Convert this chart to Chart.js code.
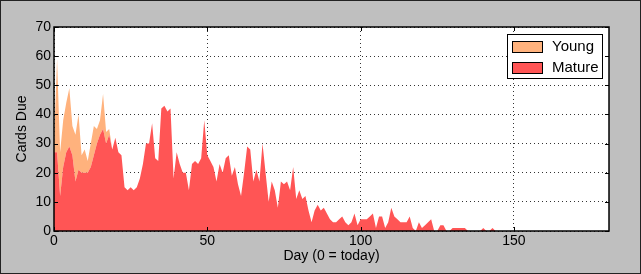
<!DOCTYPE html>
<html>
<head>
<meta charset="utf-8">
<script src="https://cdn.jsdelivr.net/npm/chart.js@4/dist/chart.umd.min.js"></script>
<style>
  html, body { margin: 0; padding: 0; background: #bfbfbf; }
  #wrap { width: 641px; height: 274px; position: relative; }
</style>
</head>
<body>
<div id="wrap"><canvas id="dueChart" width="641" height="274"></canvas></div>
<script>
// Cards due per day (index = day, 0 = today)
const mature = [
  27, 27, 12, 22, 27, 29, 26, 17, 21, 20,
  20, 20, 22, 26, 30, 33, 35, 30, 33, 28,
  32, 27, 26, 15, 14, 15, 14, 15, 18, 23,
  30, 30, 37, 25, 24, 42, 43, 41, 42, 18,
  27, 23, 20, 20, 14, 23, 24, 23, 25, 38,
  26, 24, 22, 17, 23, 20, 25, 26, 19, 22,
  16, 12, 20, 29, 28, 17, 21, 17, 30, 20,
  10, 17, 14, 8, 17, 16, 17, 14, 22, 11,
  14, 11, 12, 7, 3, 7, 9, 7, 8, 6,
  4, 3, 3, 4, 5, 3, 2, 3, 6, 2,
  4, 4, 4, 5, 6, 1, 5, 5, 1, 3,
  8, 5, 4, 3, 3, 3, 5, 1, 0, 3,
  1, 2, 3, 4, 0, 0, 2, 2, 0, 0,
  1, 1, 1, 1, 1, 0, 0, 0, 0, 0,
  1, 0, 0, 1, 0
];
const young = [
  3, 32, 15, 16, 17, 20, 10, 16, 19, 6,
  8, 4, 8, 10, 5, 5, 12, 4, 2, 0
];
const seriesNames = ['Young', 'Mature'];
const seriesColors = ['#ffb27d', '#ff5555'];
const xTicks = [0, 50, 100, 150];
const yTicks = [0, 10, 20, 30, 40, 50, 60, 70];

const FONT = "'Liberation Sans', Arial, sans-serif";

// background, outer frame, plot frame and the boxed legend
const frame = {
  id: 'frame',
  beforeDraw(chart) {
    const c = chart.ctx;
    c.save();
    c.fillStyle = '#bfbfbf';
    c.fillRect(0, 0, chart.width, chart.height);
    c.strokeStyle = '#222';
    c.lineWidth = 1;
    c.strokeRect(0.5, 0.5, chart.width - 1, chart.height - 1);
    const a = chart.chartArea;
    c.fillStyle = '#ffffff';
    c.fillRect(a.left, a.top, a.right - a.left, a.bottom - a.top);
    c.restore();
  },
  afterDraw(chart) {
    const c = chart.ctx;
    const a = chart.chartArea;
    c.save();
    c.strokeStyle = '#000';
    c.lineWidth = 1.5;
    c.strokeRect(a.left, a.top, a.right - a.left, a.bottom - a.top);

    // little inward ticks like the original
    c.lineWidth = 1;
    const xs = chart.scales.x, ys = chart.scales.y;
    xTicks.forEach(t => {
      const px = Math.round(xs.getPixelForValue(t)) + 0.5;
      c.beginPath();
      c.moveTo(px, a.bottom); c.lineTo(px, a.bottom - 4);
      c.moveTo(px, a.top); c.lineTo(px, a.top + 4);
      c.stroke();
    });
    yTicks.forEach(t => {
      const py = Math.round(ys.getPixelForValue(t)) + 0.5;
      c.beginPath();
      c.moveTo(a.left, py); c.lineTo(a.left + 4, py);
      c.moveTo(a.right, py); c.lineTo(a.right - 4, py);
      c.stroke();
    });

    // legend
    const lx = 507, ly = 34, lw = 95, lh = 44;
    c.fillStyle = '#fff';
    c.fillRect(lx, ly, lw, lh);
    c.strokeStyle = '#000';
    c.strokeRect(lx + 0.5, ly + 0.5, lw, lh);
    c.font = '15px ' + FONT;
    c.textBaseline = 'middle';
    seriesNames.forEach((name, i) => {
      const ry = ly + 7 + i * 21;
      c.fillStyle = seriesColors[i];
      c.fillRect(lx + 5, ry, 30, 11);
      c.strokeStyle = '#000';
      c.strokeRect(lx + 5.5, ry + 0.5, 30, 11);
      c.fillStyle = '#000';
      c.fillText(name, lx + 45, ry + 6);
    });
    c.restore();
  }
};

new Chart(document.getElementById('dueChart'), {
  type: 'line',
  data: {
    datasets: [
      {
        label: seriesNames[1],
        data: mature.map((v, i) => ({ x: i, y: v })),
        backgroundColor: seriesColors[1],
        borderWidth: 0,
        pointRadius: 0,
        fill: 'origin',
        order: 1
      },
      {
        label: seriesNames[0],
        data: young.map((v, i) => ({ x: i, y: v })),
        backgroundColor: seriesColors[0],
        borderWidth: 0,
        pointRadius: 0,
        fill: '-1',
        order: 2
      }
    ]
  },
  plugins: [frame],
  options: {
    responsive: false,
    animation: false,
    layout: { padding: { top: 27, right: 32, left: 0, bottom: 0 } },
    plugins: { legend: { display: false }, tooltip: { enabled: false } },
    elements: { line: { tension: 0 } },
    scales: {
      x: {
        type: 'linear',
        min: 0,
        max: 181,
        afterBuildTicks(axis) { axis.ticks = xTicks.map(v => ({ value: v })); },
        afterFit(axis) { axis.height = 43; },
        ticks: { color: '#000', font: { family: FONT, size: 14 }, padding: 2, maxRotation: 0 },
        grid: { color: '#000', lineWidth: 0.8, drawTicks: false },
        border: { display: false, dash: [1, 3] },
        title: { display: true, text: 'Day (0 = today)', color: '#000', font: { family: FONT, size: 14 }, padding: { top: 0, bottom: 9 } }
      },
      y: {
        stacked: true,
        min: 0,
        max: 70,
        afterBuildTicks(axis) { axis.ticks = yTicks.map(v => ({ value: v })); },
        afterFit(axis) { axis.width = 54; },
        ticks: { color: '#000', font: { family: FONT, size: 14 }, padding: 3 },
        grid: { color: '#000', lineWidth: 0.8, drawTicks: false },
        border: { display: false, dash: [1, 3] },
        title: { display: true, text: 'Cards Due', color: '#000', font: { family: FONT, size: 14 }, padding: { top: 14, bottom: 4 } }
      }
    }
  }
});
</script>
</body>
</html>
